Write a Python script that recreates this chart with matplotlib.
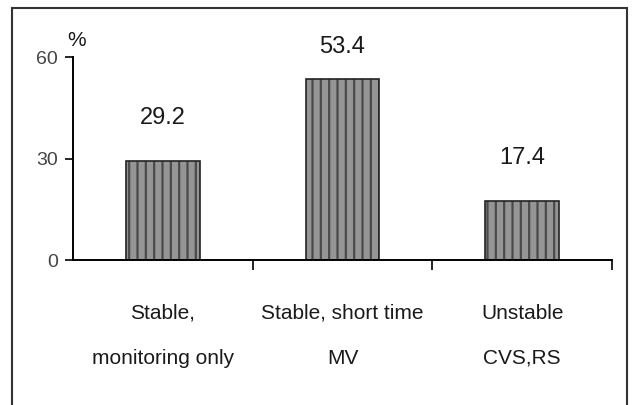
import matplotlib.pyplot as plt
from matplotlib.patches import Rectangle

# Data
line1 = ["Stable,", "Stable, short time", "Unstable"]
line2 = ["monitoring only", "MV", "CVS,RS"]
values = [29.2, 53.4, 17.4]
yticks = [0, 30, 60]

# label offsets above bar tops (points)
label_offsets = [31, 23, 31]

plt.rcParams["font.family"] = ["Liberation Sans", "DejaVu Sans"]

fig = plt.figure(figsize=(6.33, 4.05), dpi=100)
ax = fig.add_axes([0.1153, 0.358, 0.8515, 0.501])

x = [i + 0.5 for i in range(len(values))]
plt.rcParams["hatch.linewidth"] = 1.6
ax.bar(x, values, width=0.41, facecolor="#959595", edgecolor="#4a4a4a",
       hatch="||", linewidth=0)
ax.bar(x, values, width=0.41, facecolor="none", edgecolor="#222222", linewidth=1.2)

# Value labels above bars
for xi, v, off in zip(x, values, label_offsets):
    ax.annotate(f"{v}", (xi, v), xytext=(0, off), textcoords="offset points",
                ha="center", va="center", fontsize=17, color="#1a1a1a",
                annotation_clip=False)

# Category labels (two lines, widely spaced)
for xi, a, b in zip(x, line1, line2):
    ax.text(xi, -15.8, a, ha="center", va="center", fontsize=15, color="#1a1a1a")
    ax.text(xi, -29, b, ha="center", va="center", fontsize=15, color="#1a1a1a")

ax.set_xlim(0, 3)
ax.set_ylim(0, 60)
ax.set_yticks(yticks)
ax.set_yticklabels([str(t) for t in yticks], fontsize=14, color="#444444")
ax.set_xticks([1, 2, 3])
ax.set_xticklabels([])
ax.tick_params(axis="y", direction="out", length=6, width=1.2, pad=5)
ax.tick_params(axis="x", direction="out", length=7, width=1.2)
for s in ["top", "right"]:
    ax.spines[s].set_visible(False)
ax.spines["left"].set_linewidth(1.4)
ax.spines["bottom"].set_linewidth(1.4)
ax.text(0.022, 64.8, "%", fontsize=15, color="#1a1a1a", va="center", ha="center",
        clip_on=False)

# Outer frame of the figure
fig.patches.append(Rectangle((12 / 633, -0.05), 615 / 633, (405 - 8) / 405 + 0.05,
                             transform=fig.transFigure, fill=False,
                             edgecolor="#333333", linewidth=1.5))

fig.savefig("out.png", dpi=100)
